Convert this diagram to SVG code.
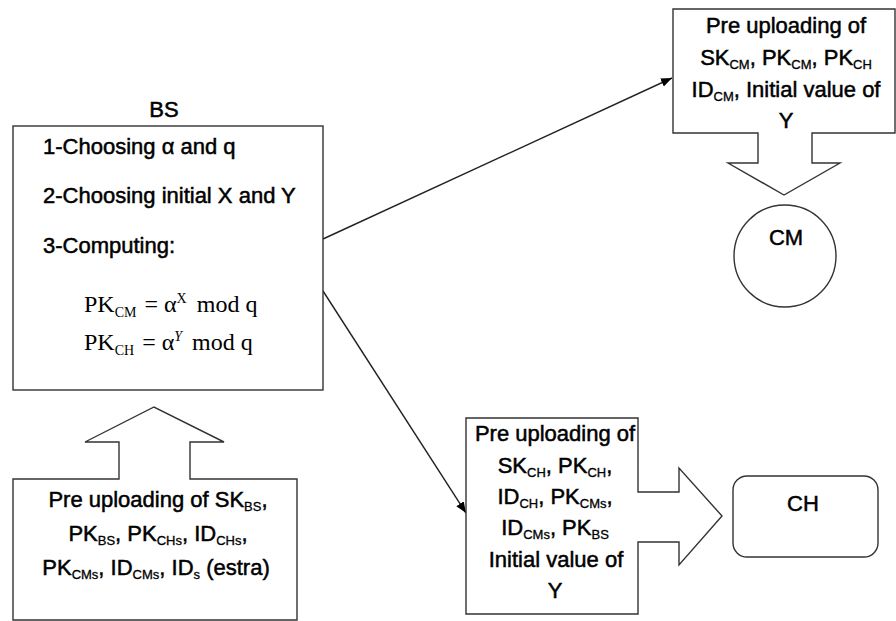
<svg xmlns="http://www.w3.org/2000/svg" width="896" height="621" viewBox="0 0 896 621">
<defs>
<style>
.shape{fill:#fff;stroke:#333;stroke-width:1.4}
.t{font-family:"Liberation Sans",Arial,sans-serif;font-size:22px;fill:#000;stroke:#000;stroke-width:0.5}
.c{text-anchor:middle}
.s{font-size:13px;stroke-width:0.3}
.f{font-family:"Liberation Serif","Times New Roman",serif;font-size:24px;fill:#000}
.fs{font-size:14px}
.conn{stroke:#222;stroke-width:1.4;fill:none;marker-end:url(#ah)}
</style>
<marker id="ah" viewBox="0 0 10 10" refX="10" refY="5" markerWidth="11" markerHeight="11" markerUnits="userSpaceOnUse" orient="auto">
<path d="M0,1 L10,5 L0,9 z" fill="#000"/>
</marker>
</defs>
<rect width="896" height="621" fill="#fff"/>

<g id="connectors">
<line class="conn" x1="323" y1="239" x2="672" y2="78"/>
<line class="conn" x1="323" y1="291" x2="466" y2="513"/>
</g>

<g id="bs">
<text class="t c" x="164" y="117">BS</text>
<rect class="shape" x="13" y="126" width="310" height="264"/>
<text class="t" x="43" y="154">1-Choosing α and q</text>
<text class="t" x="43" y="203">2-Choosing initial X and Y</text>
<text class="t" x="43" y="253">3-Computing:</text>
<text class="f" x="84" y="312">PK<tspan class="fs" dy="5">CM</tspan><tspan dx="2" dy="-5"> = α</tspan><tspan class="fs" dy="-9">X</tspan><tspan dx="4" dy="9"> mod q</tspan></text>
<text class="f" x="84" y="350">PK<tspan class="fs" dy="5">CH</tspan><tspan dx="2" dy="-5"> = α</tspan><tspan class="fs" font-style="italic" dy="-9">Y</tspan><tspan dx="4" dy="9"> mod q</tspan></text>
</g>

<g id="bs-upload">
<path class="shape" d="M13,479 L119,479 L119,442 L85,442 L154,407 L224,442 L190,442 L190,479 L297,479 L297,620 L13,620 Z"/>
<text class="t c" x="158" y="507">Pre uploading of SK<tspan class="s" dy="4">BS</tspan><tspan dy="-4">,</tspan></text>
<text class="t c" x="158" y="541">PK<tspan class="s" dy="4">BS</tspan><tspan dy="-4">, PK</tspan><tspan class="s" dy="4">CHs</tspan><tspan dy="-4">, ID</tspan><tspan class="s" dy="4">CHs</tspan><tspan dy="-4">,</tspan></text>
<text class="t c" x="156" y="575">PK<tspan class="s" dy="4">CMs</tspan><tspan dy="-4">, ID</tspan><tspan class="s" dy="4">CMs</tspan><tspan dy="-4">, ID</tspan><tspan class="s" dy="4">s</tspan><tspan dy="-4"> (estra)</tspan></text>
</g>

<g id="cm-upload">
<path class="shape" d="M673,9 L895,9 L895,133 L812,133 L812,163 L840,163 L784,195 L728,163 L758,163 L758,133 L673,133 Z"/>
<text class="t c" x="786" y="33">Pre uploading of</text>
<text class="t c" x="786" y="65">SK<tspan class="s" dy="4">CM</tspan><tspan dy="-4">, PK</tspan><tspan class="s" dy="4">CM</tspan><tspan dy="-4">, PK</tspan><tspan class="s" dy="4">CH</tspan></text>
<text class="t c" x="786" y="97">ID<tspan class="s" dy="4">CM</tspan><tspan dy="-4">, Initial value of</tspan></text>
<text class="t c" x="786" y="128">Y</text>
</g>

<g id="cm">
<circle class="shape" cx="785" cy="256" r="51"/>
<text class="t c" x="786" y="245">CM</text>
</g>

<g id="ch-upload">
<path class="shape" d="M466,418 L638,418 L638,492 L679,492 L679,468 L722,516 L679,565 L679,542 L638,542 L638,614 L466,614 Z"/>
<text class="t c" x="555" y="441">Pre uploading of</text>
<text class="t c" x="555" y="473">SK<tspan class="s" dy="4">CH</tspan><tspan dy="-4">, PK</tspan><tspan class="s" dy="4">CH</tspan><tspan dy="-4">,</tspan></text>
<text class="t c" x="555" y="504">ID<tspan class="s" dy="4">CH</tspan><tspan dy="-4">, PK</tspan><tspan class="s" dy="4">CMs</tspan><tspan dy="-4">,</tspan></text>
<text class="t c" x="555" y="535">ID<tspan class="s" dy="4">CMs</tspan><tspan dy="-4">, PK</tspan><tspan class="s" dy="4">BS</tspan></text>
<text class="t c" x="556" y="567">Initial value of</text>
<text class="t c" x="555" y="598">Y</text>
</g>

<g id="ch">
<rect class="shape" x="733" y="476" width="145" height="81" rx="14"/>
<text class="t c" x="803" y="511">CH</text>
</g>
</svg>
